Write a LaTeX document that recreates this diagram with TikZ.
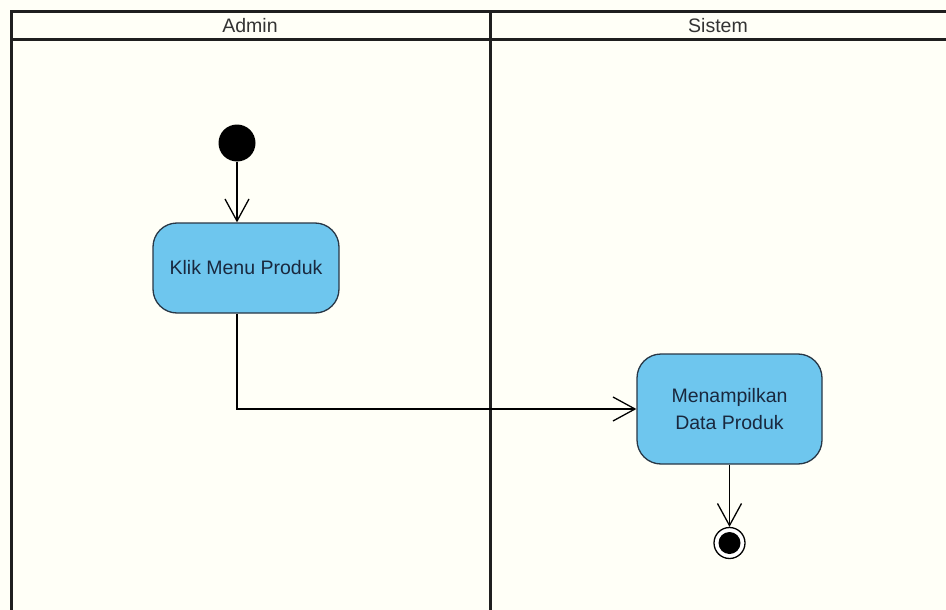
\documentclass[tikz,border=0pt]{standalone}
\usepackage{fontspec}
\setmainfont{Liberation Sans}
\usetikzlibrary{shapes,arrows,arrows.meta,positioning}

\definecolor{actblue}{RGB}{110,198,238}
\definecolor{actline}{RGB}{40,55,70}
\definecolor{acttext}{RGB}{25,40,62}
\definecolor{paper}{RGB}{255,255,247}

\begin{document}
\begin{tikzpicture}[x=1pt,y=-1pt]
			\tikzstyle{Lane}	= [line width=3pt, black!88, line cap=rect]
			\tikzstyle{Head}	= [font=\fontsize{19.5}{24}\selectfont, text=black!80]
			\tikzstyle{Action}	= [rectangle, rounded corners=24pt, draw=actline, line width=1.3pt, fill=actblue, text=acttext, align=center, inner sep=0pt, font=\fontsize{19.5}{27}\selectfont]
			\tikzstyle{Start}	= [circle, fill=black, minimum size=37pt, inner sep=0pt]
			\tikzstyle{Stop}	= [circle, draw, line width=1.3pt, fill=white, minimum size=31pt, inner sep=0pt]
			\tikzstyle{Flow}	= [line width=1.3pt, -{Straight Barb[length=22pt, width=24pt, line width=1.3pt]}]
			
			\useasboundingbox [fill=paper] (0,0) rectangle (946,610);
			
			% swimlanes
			\draw [Lane] (11,610) -- (11,12) -- (946,12);
			\draw [Lane] (11,40) -- (946,40);
			\draw [Lane] (490,12) -- (490,610);
			\node (admin) at (250,26) [Head] {Admin};
			\node (sistem) at (718,26) [Head] {Sistem};
			
			% activities
			\node (start) at (237,143) [Start] {};
			\node (klik) at (246,268) [Action, minimum width=186pt, minimum height=90pt] {Klik Menu Produk};
			\node (tampil) at (729.5,409) [Action, minimum width=185pt, minimum height=110pt] {Menampilkan\\Data Produk};
			\node (stop) at (729.5,543) [Stop] {};
			\fill (stop.center) circle (11pt);
			
			\draw [Flow] (start) -- (start |- klik.north);
			\draw [Flow] (klik.south -| start) |- (tampil.west);
			\draw [Flow] (tampil.south) -- (stop.north);
		\end{tikzpicture}
\end{document}
